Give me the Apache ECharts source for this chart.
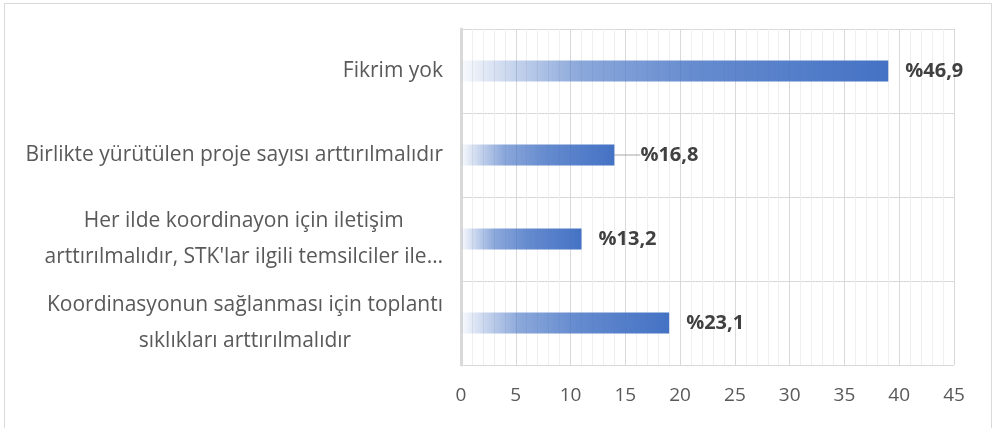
<!DOCTYPE html>
<html>
<head>
<meta charset="utf-8">
<script src="https://cdn.jsdelivr.net/npm/echarts@6/dist/echarts.min.js"></script>
<style>
  html, body { margin: 0; padding: 0; background: #fff; }
  #main { width: 993px; height: 428px; }
</style>
</head>
<body>
<div id="main"></div>
<script>
// kategoriler (alttan üste)
var categories = [
    'Koordinasyonun sağlanması için toplantı\nsıklıkları arttırılmalıdır',
    "Her ilde koordinayon için iletişim\narttırılmalıdır, STK'lar ilgili temsilciler ile…",
    'Birlikte yürütülen proje sayısı arttırılmalıdır',
    'Fikrim yok'
];
var values = [19, 11, 14, 39];
var percentLabels = ['%23,1', '%13,2', '%16,8', '%46,9'];
var leaderLine = [false, false, true, false];
var xTicks = [0, 5, 10, 15, 20, 25, 30, 35, 40, 45];

var font = '"Open Sans", sans-serif';
var blue = '#4472C4';

var barData = values.map(function (v, i) {
    return { value: v, labelLine: { show: leaderLine[i] } };
});

var option = {
    animation: false,
    graphic: [{
        type: 'rect',
        left: 2, top: 1,
        shape: { width: 987, height: 425 },
        style: { fill: 'none', stroke: '#d9d9d9', lineWidth: 1 },
        z: -1
    }],
    grid: { left: 461, right: 39, top: 29, bottom: 63 },
    xAxis: {
        type: 'value',
        min: xTicks[0],
        max: xTicks[xTicks.length - 1],
        interval: 5,
        axisLine: { show: false },
        axisTick: { show: false },
        axisLabel: { color: '#595959', fontSize: 19, fontFamily: font, margin: 21 },
        splitLine: { show: true, lineStyle: { color: '#d9d9d9', width: 1 } },
        minorTick: { show: false, splitNumber: 5 },
        minorSplitLine: { show: true, lineStyle: { color: '#efefef', width: 1 } }
    },
    yAxis: {
        type: 'category',
        data: categories,
        axisLine: { show: true, lineStyle: { color: '#d9d9d9', width: 3 } },
        axisTick: { show: false },
        splitLine: { show: true, lineStyle: { color: '#d9d9d9', width: 1 } },
        axisLabel: {
            margin: 18,
            color: '#595959',
            fontSize: 21,
            fontFamily: font,
            lineHeight: 36,
            formatter: function (v) { return '{c|' + v.split('\n').join('}\n{c|') + '}'; },
            rich: { c: { align: 'center', color: '#595959', fontSize: 21, fontFamily: font, lineHeight: 36 } }
        }
    },
    series: [{
        type: 'bar',
        data: barData,
        barWidth: 21,
        itemStyle: {
            color: {
                type: 'linear', x: 0, y: 0, x2: 1, y2: 0,
                colorStops: [
                    { offset: 0, color: 'rgba(68,114,196,0.03)' },
                    { offset: 0.12, color: 'rgba(68,114,196,0.3)' },
                    { offset: 0.28, color: 'rgba(68,114,196,0.62)' },
                    { offset: 0.55, color: 'rgba(68,114,196,0.82)' },
                    { offset: 1, color: blue }
                ]
            }
        },
        label: {
            show: true,
            position: 'right',
            distance: 17,
            color: '#404040',
            fontSize: 20,
            fontWeight: 'bold',
            fontFamily: font,
            formatter: function (p) { return percentLabels[p.dataIndex]; }
        },
        labelLine: { lineStyle: { color: '#a6a6a6', width: 1 } },
        labelLayout: function (p) {
            if (leaderLine[p.dataIndex]) { return { dx: 9 }; }
            return { dx: 0 };
        }
    }]
};

var myChart = echarts.init(document.getElementById('main'));
myChart.setOption(option);
</script>
</body>
</html>
